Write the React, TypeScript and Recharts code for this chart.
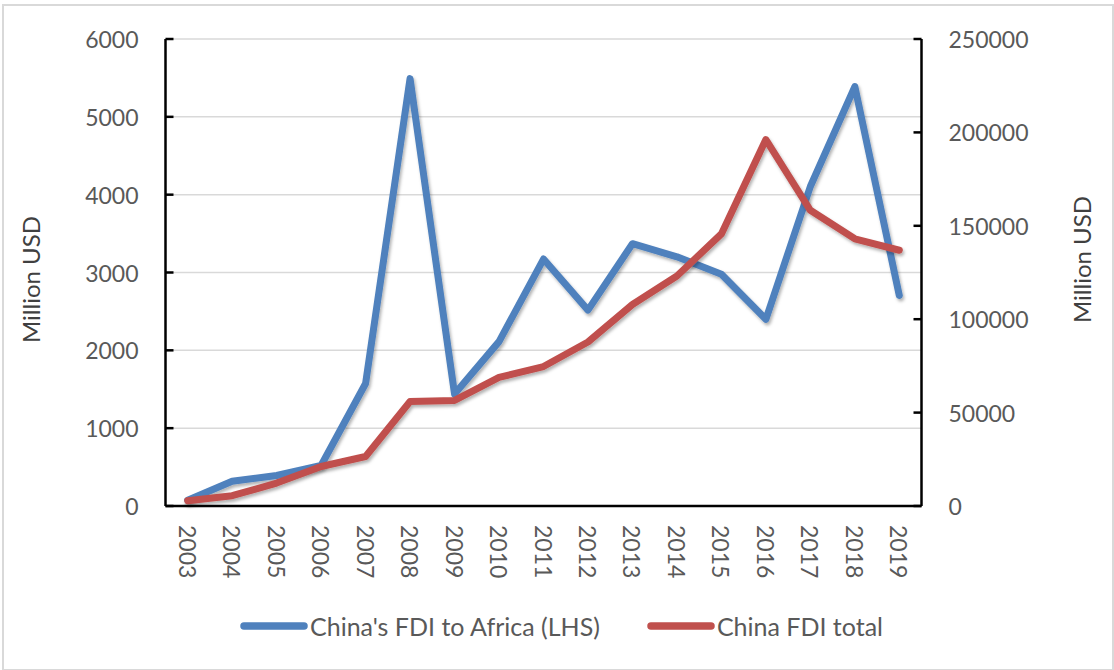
import React from 'react';
import {
  LineChart,
  Line,
  XAxis,
  YAxis,
  CartesianGrid,
  Legend,
} from 'recharts';

// Outward FDI flows, million USD
const years = [
  '2003', '2004', '2005', '2006', '2007', '2008', '2009', '2010', '2011',
  '2012', '2013', '2014', '2015', '2016', '2017', '2018', '2019',
];
const fdiAfrica = [
  75, 317, 392, 520, 1574, 5491, 1439, 2112, 3173,
  2517, 3370, 3202, 2978, 2399, 4105, 5389, 2705,
];
const fdiTotal = [
  2855, 5498, 12261, 21160, 26506, 55907, 56529, 68811, 74654,
  87804, 107844, 123120, 145667, 196149, 158290, 143037, 136910,
];
const leftTicks = [0, 1000, 2000, 3000, 4000, 5000, 6000];
const rightTicks = [0, 50000, 100000, 150000, 200000, 250000];

const seriesNames = {
  africa: "China's FDI to Africa (LHS)",
  total: 'China FDI total',
};

const data = years.map((year, i) => ({
  year,
  africa: fdiAfrica[i],
  total: fdiTotal[i],
}));

const BLUE = '#4f81bd';
const RED = '#c0504d';
const TEXT = '#595959';
const FONT = 'Lato, "Noto Sans", sans-serif';
const TICK_MARGIN = 27;

const LeftTick = (props: any) => {
  const { x, y, payload } = props;
  const axisX = x + TICK_MARGIN;
  return (
    <g>
      <line x1={axisX} x2={axisX + 8} y1={y} y2={y} stroke="#000" strokeWidth={2.5} />
      <text x={x} y={y} textAnchor="end" dominantBaseline="central" fill={TEXT} fontSize={23} fontFamily={FONT}>
        {payload.value}
      </text>
    </g>
  );
};

const RightTick = (props: any) => {
  const { x, y, payload } = props;
  const axisX = x - TICK_MARGIN;
  return (
    <g>
      <line x1={axisX - 8} x2={axisX} y1={y} y2={y} stroke="#000" strokeWidth={2.5} />
      <text x={x} y={y} textAnchor="start" dominantBaseline="central" fill={TEXT} fontSize={23} fontFamily={FONT}>
        {payload.value}
      </text>
    </g>
  );
};

const YearTick = (props: any) => {
  const { x, y, payload } = props;
  return (
    <text
      x={x}
      y={y}
      transform={`rotate(90, ${x}, ${y})`}
      textAnchor="start"
      dominantBaseline="central"
      fill={TEXT}
      fontSize={23}
      fontFamily={FONT}
    >
      {payload.value}
    </text>
  );
};

// Rotated "Million USD" title, placed relative to its axis box
const AxisTitle = ({ viewBox, dx, dy }: any) => {
  const cx = viewBox.x + dx;
  const cy = viewBox.y + viewBox.height / 2 + dy;
  return (
    <text
      x={cx}
      y={cy}
      transform={`rotate(-90, ${cx}, ${cy})`}
      textAnchor="middle"
      dominantBaseline="central"
      fill="#404040"
      fontSize={24}
      fontFamily={FONT}
    >
      Million USD
    </text>
  );
};

const LegendContent = () => {
  const items = [
    { name: seriesNames.africa, color: BLUE },
    { name: seriesNames.total, color: RED },
  ];
  return (
    <div
      style={{
        display: 'flex',
        justifyContent: 'center',
        alignItems: 'center',
        height: 40,
        paddingLeft: 9,
        gap: 47,
      }}
    >
      {items.map((it) => (
        <div key={it.name} style={{ display: 'flex', alignItems: 'center' }}>
          <svg width={68} height={12} style={{ marginRight: 2 }}>
            <line x1={4} x2={64} y1={6} y2={6} stroke={it.color} strokeWidth={7.5} strokeLinecap="round" />
          </svg>
          <span style={{ fontFamily: FONT, fontSize: 25, color: TEXT, lineHeight: '40px' }}>{it.name}</span>
        </div>
      ))}
    </div>
  );
};

export default function App() {
  return (
    <div style={{ position: 'relative', width: 1114, height: 670, background: '#fff' }}>
      <style>{'body{margin:0;background:#fff;}'}</style>
      <div
        style={{
          position: 'absolute',
          left: 2,
          top: 4,
          width: 1108,
          height: 663,
          border: '2px solid #d9d9d9',
        }}
      />
      <LineChart
        width={1114}
        height={670}
        data={data}
        margin={{ top: 39, right: 0, bottom: 0, left: 0 }}
        style={{ position: 'absolute', left: 0, top: 0 }}
      >
        <defs>
          <filter id="lineShadow" x="-5%" y="-5%" width="110%" height="115%">
            <feDropShadow dx={1.5} dy={2.5} stdDeviation={1.5} floodColor="#000" floodOpacity={0.3} />
          </filter>
        </defs>
        <CartesianGrid yAxisId="left" vertical={false} stroke="#d9d9d9" strokeWidth={1.5} />
        <XAxis
          dataKey="year"
          height={100}
          padding={{ left: 22.2, right: 22.2 }}
          axisLine={{ stroke: '#000', strokeWidth: 2.5 }}
          tickLine={false}
          tickSize={0}
          tickMargin={19}
          tick={<YearTick />}
          interval={0}
        />
        <YAxis
          yAxisId="left"
          orientation="left"
          width={165.5}
          domain={[0, 6000]}
          ticks={leftTicks}
          axisLine={{ stroke: '#000', strokeWidth: 2.5 }}
          tickLine={false}
          tickSize={0}
          tickMargin={TICK_MARGIN}
          tick={<LeftTick />}
          label={<AxisTitle dx={30} dy={7} />}
        />
        <YAxis
          yAxisId="right"
          orientation="right"
          width={192.5}
          domain={[0, 250000]}
          ticks={rightTicks}
          axisLine={{ stroke: '#000', strokeWidth: 2.5 }}
          tickLine={false}
          tickSize={0}
          tickMargin={TICK_MARGIN}
          tick={<RightTick />}
          label={<AxisTitle dx={159.5} dy={-13} />}
        />
        <Legend verticalAlign="bottom" height={64} content={<LegendContent />} wrapperStyle={{ height: 64 }} />
        <Line
          yAxisId="left"
          type="linear"
          dataKey="africa"
          name={seriesNames.africa}
          stroke={BLUE}
          strokeWidth={7}
          strokeLinecap="round"
          strokeLinejoin="round"
          dot={false}
          activeDot={false}
          filter="url(#lineShadow)"
          isAnimationActive={false}
        />
        <Line
          yAxisId="right"
          type="linear"
          dataKey="total"
          name={seriesNames.total}
          stroke={RED}
          strokeWidth={7}
          strokeLinecap="round"
          strokeLinejoin="round"
          dot={false}
          activeDot={false}
          filter="url(#lineShadow)"
          isAnimationActive={false}
        />
      </LineChart>
    </div>
  );
}
